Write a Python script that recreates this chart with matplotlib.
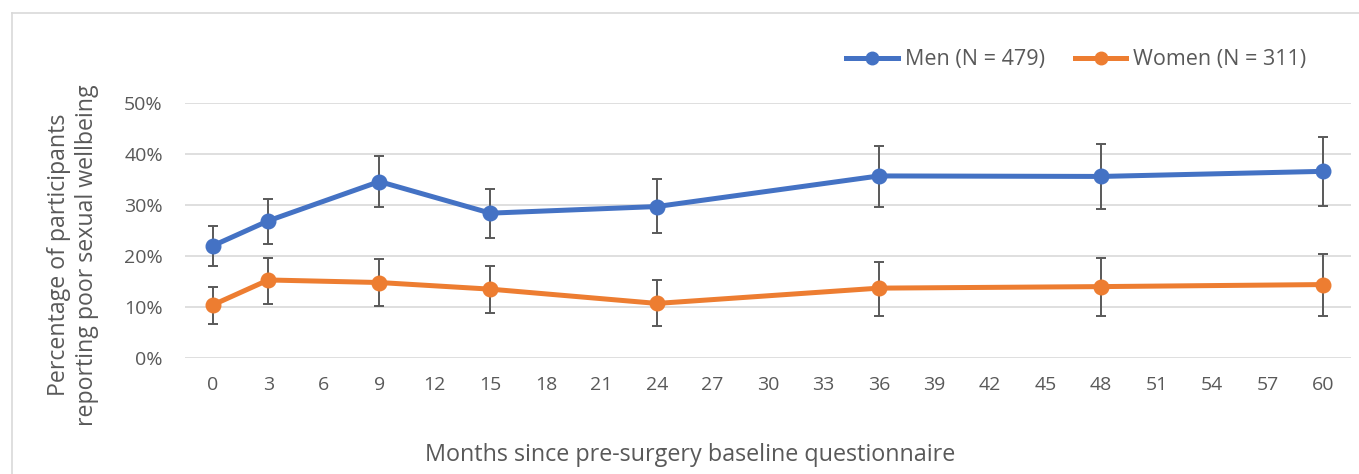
import numpy as np
import matplotlib.pyplot as plt
from matplotlib.lines import Line2D

plt.rcParams['font.family'] = ['Open Sans', 'DejaVu Sans']

months = [0, 3, 9, 15, 24, 36, 48, 60]

# percentages with lower / upper ends of the error bars
men = [22.0, 26.9, 34.6, 28.4, 29.7, 35.7, 35.6, 36.6]
men_low = [18.1, 22.3, 29.7, 23.6, 24.5, 29.6, 29.2, 29.9]
men_high = [25.9, 31.2, 39.6, 33.1, 35.0, 41.5, 41.9, 43.4]

women = [10.4, 15.3, 14.8, 13.5, 10.7, 13.7, 14.0, 14.4]
women_low = [6.7, 10.6, 10.1, 8.8, 6.3, 8.3, 8.3, 8.3]
women_high = [14.0, 19.7, 19.5, 18.0, 15.2, 18.9, 19.7, 20.4]

labels = ['Men (N = 479)', 'Women (N = 311)']
colors = ['#4472C4', '#ED7D31']
grey = '#595959'

fig = plt.figure(figsize=(13.59, 4.74), dpi=100)
ax = fig.add_axes([185/1359, 1-358/474, (1351-185)/1359, (358-103)/474])

for y, lo, hi, c, lab in [(men, men_low, men_high, colors[0], labels[0]),
                          (women, women_low, women_high, colors[1], labels[1])]:
    y = np.array(y); lo = np.array(lo); hi = np.array(hi)
    ax.errorbar(months, y, yerr=[y-lo, hi-y], fmt='none', ecolor=grey,
                elinewidth=1.4, capsize=3.5, capthick=1.4, zorder=2)
    ax.plot(months, y, color=c, lw=3.6, marker='o', ms=10.5, label=lab, zorder=3)

ax.set_xlim(-1.5, 61.5)
ax.set_ylim(0, 50)
ax.set_xticks(np.arange(0, 61, 3))
ax.set_yticks(np.arange(0, 51, 10))
ax.set_yticklabels(['%d%%' % v for v in range(0, 51, 10)])
ax.tick_params(axis='both', length=0, labelsize=14, labelcolor=grey)
ax.tick_params(axis='x', pad=13)
ax.tick_params(axis='y', pad=16)
ax.grid(axis='y', color='#d9d9d9', lw=1.2)
ax.set_axisbelow(True)
for s in ax.spines.values():
    s.set_visible(False)

fig.text(73/1359, 1-255/474, 'Percentage of participants\nreporting poor sexual wellbeing',
         rotation=90, ha='center', va='center', multialignment='center',
         fontsize=16.7, color=grey, linespacing=1.25)
fig.text(690/1359, 1-455/474, 'Months since pre-surgery baseline questionnaire',
         ha='center', va='center', fontsize=16.8, color=grey)

handles = [Line2D([], [], color=c, lw=3.6, marker='o', ms=9) for c in colors]
fig.legend(handles, labels, loc='center right', bbox_to_anchor=(1306/1359, 1-60/474),
           ncol=2, frameon=False, fontsize=15.5, labelcolor=grey,
           handlelength=2.4, handletextpad=0.3, columnspacing=1.4,
           borderpad=0, borderaxespad=0)

# light frame around the chart
fig.add_artist(Line2D([12/1359, 1], [1-13/474, 1-13/474], color='#d9d9d9', lw=1.2))
fig.add_artist(Line2D([12/1359, 12/1359], [0, 1-13/474], color='#d9d9d9', lw=1.2))

fig.savefig('out.png', dpi=100)
